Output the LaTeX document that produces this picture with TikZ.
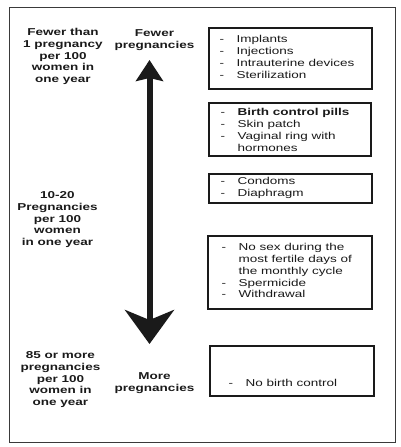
\documentclass[tikz,border=0pt]{standalone}
\usepackage{fontspec}
\newfontfamily\widesans[FakeStretch=1.35]{Liberation Sans}
\usetikzlibrary{arrows.meta}
\definecolor{FrameGray}{HTML}{3A3A3A}
\definecolor{InkBlack}{HTML}{1A1A1A}
\newcommand{\labelfont}{\widesans\bfseries\fontsize{10}{11.75}\selectfont}
\newcommand{\listfont}{\widesans\fontsize{10}{11.7}\selectfont}
\newcommand{\dashw}{17pt}
\newcommand{\li}[1]{\makebox[\dashw][l]{-}#1}
\newcommand{\lc}[1]{\hspace*{\dashw}#1}
\tikzset{
    ratetext/.style={inner sep=0pt, anchor=base, font=\labelfont, text=InkBlack},
    listtext/.style={inner sep=0pt, anchor=base west, font=\listfont, text=InkBlack},
    listbox/.style={draw=InkBlack, line width=1.2pt, inner sep=0pt},
    scalearrow/.style={InkBlack, line width=6pt,
        {Stealth[width=27pt, length=21pt, inset=3pt]}-{Stealth[width=49pt, length=34pt, inset=10pt]}}
}

\begin{document}
\begin{tikzpicture}[x=1pt, y=-1pt]
    % =========================================
    % 1. 外框 (Frame)
    % =========================================
    \useasboundingbox (0,0) rectangle (400,447);
    \fill[white] (0,0) rectangle (400,447);
    \draw[FrameGray, line width=0.9pt] (9,7) rectangle (395,442);

    % =========================================
    % 2. 左侧说明 (Rates)
    % =========================================
    \node[ratetext] (rate-low) at (63,35.5) {\begin{tabular}[t]{@{}c@{}}
        Fewer than\\ 1 pregnancy\\ per 100\\ women in\\ one year\end{tabular}};
    \node[ratetext] (rate-mid) at (57.5,198.5) {\begin{tabular}[t]{@{}c@{}}
        10-20\\ Pregnancies\\ per 100\\ women\\ in one year\end{tabular}};
    \node[ratetext] (rate-high) at (60.5,358.5) {\begin{tabular}[t]{@{}c@{}}
        85 or more\\ pregnancies\\ per 100\\ women in\\ one year\end{tabular}};

    \node[ratetext] (fewer) at (154.5,36.5) {\begin{tabular}[t]{@{}c@{}}
        Fewer\\ pregnancies\end{tabular}};
    \node[ratetext] (more) at (154.5,379.5) {\begin{tabular}[t]{@{}c@{}}
        More\\ pregnancies\end{tabular}};

    % 双向箭头 (Arrow)
    \coordinate (tip-up) at (149.5,60);
    \coordinate (tip-down) at (149.5,344);
    \draw[scalearrow] (tip-up) -- (tip-down);

    % =========================================
    % 3. 方法列表 (Methods)
    % =========================================
    \node[listbox, minimum width=163pt, minimum height=61pt] (box-1) at (290.5,58.5) {};
    \node[listbox, minimum width=162pt, minimum height=53pt] (box-2) at (290,129.5) {};
    \node[listbox, minimum width=163pt, minimum height=29pt] (box-3) at (290.5,188.5) {};
    \node[listbox, minimum width=164pt, minimum height=73pt] (box-4) at (290,272.5) {};
    \node[listbox, minimum width=164pt, minimum height=50pt] (box-5) at (292,371) {};

    \node[listtext] (list-1) at ([shift={(11,15.5)}]box-1.north west) {\begin{tabular}[t]{@{}l@{}}
        \li{Implants}\\ \li{Injections}\\ \li{Intrauterine devices}\\ \li{Sterilization}\end{tabular}};
    \node[listtext] (list-2) at ([shift={(12,13.5)}]box-2.north west) {\begin{tabular}[t]{@{}l@{}}
        \li{\textbf{Birth control pills}}\\ \li{Skin patch}\\ \li{Vaginal ring with}\\ \lc{hormones}\end{tabular}};
    \node[listtext] (list-3) at ([shift={(12,11.5)}]box-3.north west) {\begin{tabular}[t]{@{}l@{}}
        \li{Condoms}\\ \li{Diaphragm}\end{tabular}};
    \node[listtext] (list-4) at ([shift={(14,15.5)}]box-4.north west) {\begin{tabular}[t]{@{}l@{}}
        \li{No sex during the}\\ \lc{most fertile days of}\\ \lc{the monthly cycle}\\ \li{Spermicide}\\ \li{Withdrawal}\end{tabular}};
    \node[listtext] (list-5) at ([shift={(19,41.5)}]box-5.north west) {\begin{tabular}[t]{@{}l@{}}
        \li{No birth control}\end{tabular}};

\end{tikzpicture}
\end{document}
